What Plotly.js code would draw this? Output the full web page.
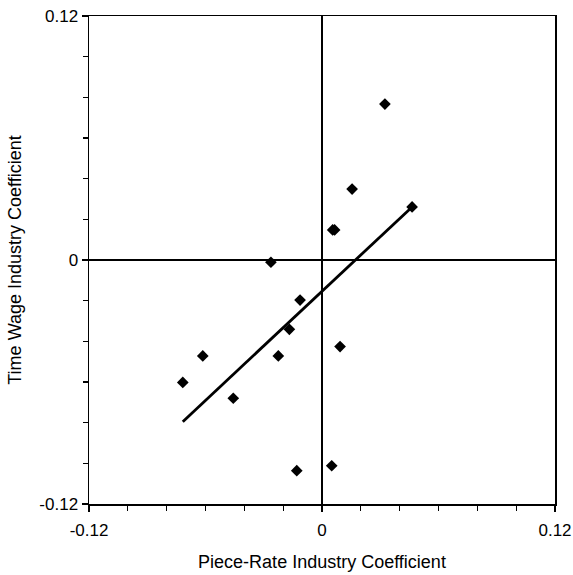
<!DOCTYPE html>
<html>
<head>
<meta charset="utf-8">
<script src="https://cdn.plot.ly/plotly-3.0.1.min.js"></script>
<style>html,body{margin:0;padding:0;background:#fff;}</style>
</head>
<body>
<div id="chart" style="width:573px;height:575px;"></div>
<script>
// Industry coefficients (piece-rate vs time wage)
const pieceRate = [0.0324, 0.0155, 0.0464, 0.0055, 0.0065, -0.0263, -0.0113, -0.0168, 0.0093, -0.0614, -0.0225, -0.0717, -0.0457, -0.0130, 0.0050];
const timeWage  = [0.0767, 0.0349, 0.0261, 0.0148, 0.0148, -0.0011, -0.0197, -0.0341, -0.0426, -0.0472, -0.0472, -0.0602, -0.0680, -0.1036, -0.1012];
// Fitted regression line endpoints
const fitX = [-0.0717, 0.0464];
const fitY = [-0.0795, 0.0261];
const tickVals = [-0.12, 0, 0.12];
const tickText = ["-0.12", "0", "0.12"];

const font = {family: "Liberation Sans, Arial, sans-serif", color: "#000"};

const traces = [
  {x: fitX, y: fitY, mode: "lines", line: {color: "#000", width: 2.8}, hoverinfo: "skip"},
  {x: pieceRate, y: timeWage, mode: "markers", marker: {symbol: "diamond", size: 9, color: "#000"}}
];

const axisCommon = {
  range: [-0.12, 0.12],
  tickvals: tickVals, ticktext: tickText,
  ticks: "outside", ticklen: 6, tickwidth: 1.2, tickcolor: "#000",
  minor: {dtick: 0.02, tick0: 0, ticks: "outside", ticklen: 5, tickwidth: 1.2, tickcolor: "#000", showgrid: false},
  showline: true, linecolor: "#000", linewidth: 1.5, mirror: true,
  showgrid: false,
  zeroline: true, zerolinecolor: "#000", zerolinewidth: 1.5,
  tickfont: Object.assign({size: 17}, font),
  fixedrange: true
};

const layout = {
  width: 573, height: 575,
  margin: {l: 89, r: 18, t: 16, b: 71},
  paper_bgcolor: "#fff", plot_bgcolor: "#fff",
  showlegend: false,
  font: font,
  xaxis: Object.assign({}, axisCommon, {
    ticklabelstandoff: 4,
    title: {text: "Piece-Rate Industry Coefficient", font: Object.assign({size: 18}, font), standoff: 16}
  }),
  yaxis: Object.assign({}, axisCommon, {
    title: {text: "Time Wage Industry Coefficient", font: Object.assign({size: 18}, font), standoff: 13}
  })
};

Plotly.newPlot("chart", traces, layout, {displayModeBar: false, staticPlot: true});
</script>
</body>
</html>
